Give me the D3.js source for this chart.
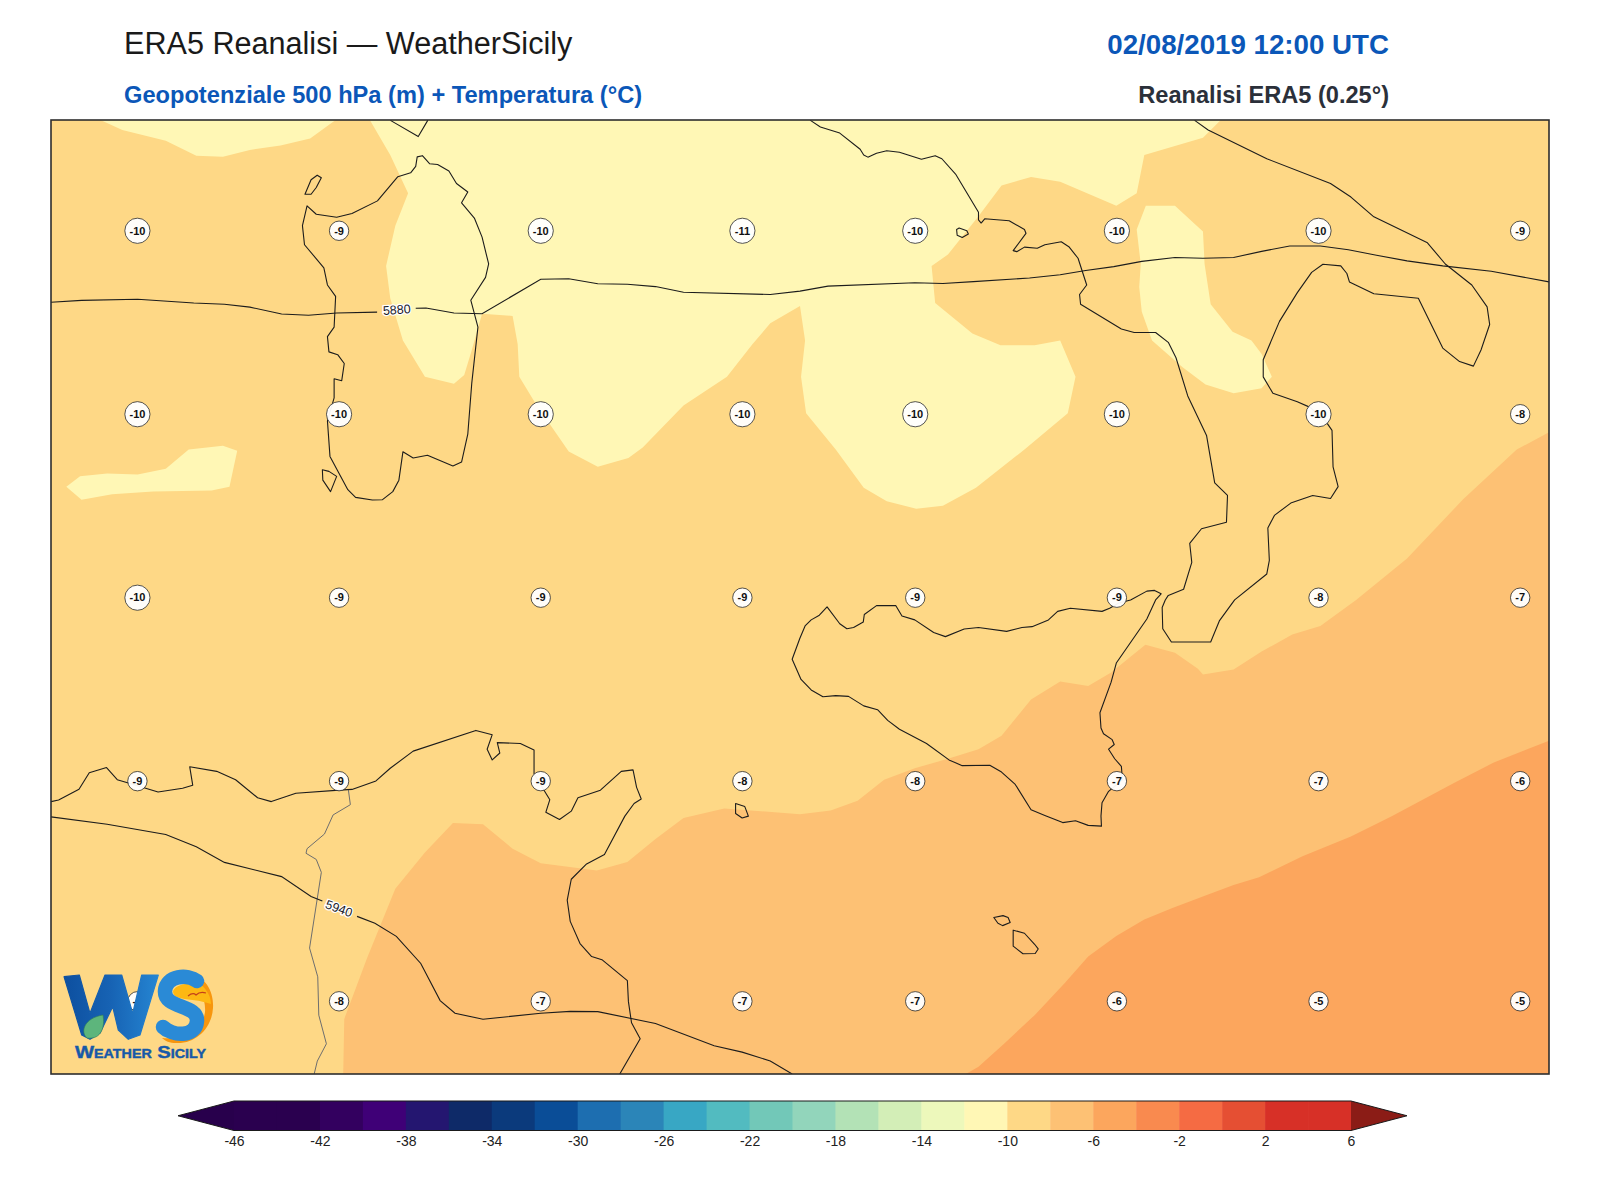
<!DOCTYPE html>
<html>
<head>
<meta charset="utf-8">
<title>ERA5 Reanalisi</title>
<script src="https://cdn.jsdelivr.net/npm/d3@7"></script>
<style>
body { margin: 0; background: #fff; }
text { font-family: "Liberation Sans", Arial, sans-serif; }
</style>
</head>
<body>
<script>
// Settings
var w = 1600, h = 1200;
var plot = { left: 51, right: 1549, top: 120, bottom: 1074 };
var bar = { left: 234, right: 1351, top: 1101, bottom: 1130.5, ext: 56 };

// Map window (degrees)
var lonRange = [6, 19];
var latRange = [35, 41.5];

// Temperature labels on the grid
var labelLons = [6.75, 8.5, 10.25, 12, 13.5, 15.25, 17, 18.75];
var labelLats = [40.75, 39.5, 38.25, 37, 35.5];
var labelTemps = [
	[-10, -9, -10, -11, -10, -10, -10, -9],
	[-10, -10, -10, -10, -10, -10, -10, -8],
	[-10, -9, -9, -9, -9, -9, -8, -7],
	[-9, -9, -9, -8, -8, -7, -7, -6],
	[-8, -8, -7, -7, -7, -6, -5, -5]
];

// Colour scale
var levels = [-46, -44, -42, -40, -38, -36, -34, -32, -30, -28, -26, -24, -22, -20, -18, -16, -14, -12, -10, -8, -6, -4, -2, 0, 2, 4, 6];
var levelColors = ["#2a004f", "#2a004f", "#33005f", "#3f0077", "#241670", "#0e2a68", "#0b3a7c", "#0a4d97", "#1d6eb0", "#2b85b8", "#38a7c4", "#52bbc0", "#72c8b8", "#92d5bb", "#b3e2b6", "#d3eeb7", "#edf8bb", "#fff7b5", "#fed886", "#fdc174", "#fca65d", "#f98a4f", "#f56b43", "#e54f33", "#d73027", "#d73027"];
var underColor = "#28004c", overColor = "#8b1c16";
var barTicks = [-46, -42, -38, -34, -30, -26, -22, -18, -14, -10, -6, -2, 2, 6];

// Temperature bands, [lon, lat]
var bandCold1 = [[6.429,41.5],[6.619,41.432],[6.996,41.359],[7.261,41.257],[7.492,41.249],[7.726,41.296],[7.992,41.327],[8.249,41.374],[8.47,41.5]];
var bandCold2 = [[8.767,41.5],[8.944,41.262],[9.099,41.001],[8.988,40.78],[8.908,40.506],[8.944,40.285],[9.054,39.998],[9.245,39.75],[9.497,39.703],[9.586,39.763],[9.652,39.933],[9.741,40.18],[10.006,40.165],[10.05,39.972],[10.064,39.75],[10.205,39.568],[10.493,39.242],[10.745,39.137],[11.011,39.197],[11.135,39.268],[11.489,39.555],[11.866,39.75],[12.087,39.972],[12.242,40.115],[12.5,40.232],[12.544,39.998],[12.509,39.75],[12.553,39.502],[12.81,39.255],[13.053,38.994],[13.253,38.903],[13.509,38.851],[13.74,38.872],[14.027,38.994],[14.448,39.255],[14.824,39.502],[14.891,39.75],[14.758,39.998],[14.536,39.966],[14.24,39.966],[13.996,40.045],[13.673,40.253],[13.642,40.506],[13.784,40.584],[14.049,40.845],[14.249,41.054],[14.505,41.111],[14.758,41.08],[15.245,40.915],[15.422,41.001],[15.488,41.262],[15.997,41.379],[16.152,41.5]];
var bandCold3 = [[15.501,40.915],[15.754,40.915],[15.997,40.741],[16.011,40.519],[16.064,40.245],[16.254,40.058],[16.418,39.998],[16.506,39.906],[16.595,39.75],[16.506,39.672],[16.263,39.638],[16.019,39.698],[15.82,39.815],[15.555,39.998],[15.466,40.193],[15.444,40.363],[15.457,40.519],[15.422,40.754]];
var bandCold4 = [[6.133,39.002],[6.252,39.072],[6.487,39.091],[6.752,39.085],[6.996,39.124],[7.195,39.255],[7.492,39.281],[7.616,39.247],[7.549,39.002],[7.394,38.976],[6.885,38.968],[6.531,38.95],[6.265,38.913]];
var bandWarm = [[8.536,35],[8.545,35.375],[8.744,35.792],[8.988,36.262],[9.245,36.509],[9.488,36.71],[9.749,36.702],[10.006,36.535],[10.25,36.436],[10.737,36.387],[11.002,36.444],[11.246,36.601],[11.489,36.744],[11.843,36.809],[12.499,36.77],[12.766,36.796],[13,36.861],[13.23,37.005],[13.496,37.083],[13.784,37.148],[14.049,37.213],[14.249,37.305],[14.505,37.552],[14.758,37.675],[15.001,37.643],[15.2,37.735],[15.497,37.925],[15.754,37.87],[15.953,37.761],[15.997,37.722],[16.263,37.756],[16.506,37.878],[16.772,37.995],[17.016,38.053],[17.326,38.23],[17.768,38.512],[18.255,38.916],[18.72,39.255],[19,39.372],[19,35]];
var bandWarmer = [[13.939,35],[14.049,35.049],[14.271,35.206],[14.536,35.401],[14.802,35.623],[15.001,35.8],[15.245,35.941],[15.488,36.053],[15.732,36.131],[16.042,36.223],[16.263,36.288],[16.484,36.34],[16.861,36.483],[17.281,36.619],[17.635,36.757],[18.167,36.979],[18.521,37.122],[19,37.271],[19,35]];

// Geopotential contours
var geo5880west = [[6,40.258],[6.265,40.271],[6.752,40.279],[7.239,40.253],[7.505,40.245],[7.726,40.225],[8.001,40.178],[8.235,40.17],[8.479,40.185],[8.83,40.191]];
var geo5880east = [[9.165,40.217],[9.254,40.219],[9.497,40.185],[9.741,40.18],[10.25,40.415],[10.493,40.418],[10.745,40.384],[11.002,40.381],[11.246,40.365],[11.489,40.326],[12.242,40.311],[12.5,40.334],[12.743,40.368],[13.496,40.391],[13.74,40.386],[14.005,40.399],[14.492,40.423],[14.758,40.446],[14.979,40.475],[15.223,40.501],[15.466,40.537],[15.754,40.563],[15.997,40.558],[16.263,40.563],[16.506,40.605],[16.75,40.642],[17.016,40.642],[17.259,40.616],[17.503,40.579],[17.768,40.54],[18.078,40.506],[18.499,40.47],[19,40.397]];
var geo5940west = [[6,36.752],[6.487,36.702],[6.996,36.632],[7.261,36.548],[7.505,36.442],[8.001,36.345],[8.257,36.21],[8.355,36.178]];
var geo5940east = [[8.656,36.074],[8.811,36.027],[8.997,35.938],[9.209,35.753],[9.377,35.5],[9.506,35.414],[9.749,35.373],[10.25,35.414],[10.506,35.427],[10.745,35.425],[11.246,35.344],[11.755,35.193],[11.998,35.149],[12.242,35.089],[12.432,35]];
var geoLabels = [
	{ text: "5880", lon: 9.0, lat: 40.209, angle: -4 },
	{ text: "5940", lon: 8.5, lat: 36.129, angle: 20 }
];

// Coastlines
var sardinia = [[9.223,41.257],[9.285,41.202],[9.355,41.197],[9.453,41.153],[9.519,41.067],[9.617,41.009],[9.563,40.936],[9.674,40.832],[9.741,40.702],[9.798,40.519],[9.771,40.428],[9.643,40.272],[9.705,40.089],[9.652,39.711],[9.617,39.359],[9.563,39.169],[9.488,39.143],[9.267,39.216],[9.143,39.197],[9.054,39.239],[9.019,39.046],[8.966,38.968],[8.877,38.913],[8.789,38.911],[8.643,38.929],[8.576,38.981],[8.421,39.208],[8.399,39.45],[8.457,39.607],[8.457,39.737],[8.523,39.724],[8.545,39.841],[8.488,39.901],[8.412,39.92],[8.399,40.024],[8.457,40.089],[8.47,40.298],[8.399,40.376],[8.368,40.493],[8.2,40.65],[8.182,40.78],[8.222,40.915],[8.302,40.858],[8.479,40.837],[8.612,40.863],[8.833,40.949],[9.01,41.114],[9.121,41.14],[9.165,41.184],[9.178,41.249]];
var asinara = [[8.204,40.994],[8.257,41.093],[8.31,41.124],[8.346,41.106],[8.302,41.04],[8.257,40.994]];
var antioco = [[8.355,39.117],[8.412,39.106],[8.479,39.072],[8.426,38.968],[8.359,39.046]];
var corsica = [[8.94,41.51],[8.953,41.494],[9.187,41.387],[9.267,41.494],[9.27,41.51]];
var italy = [[12.58,41.51],[12.597,41.494],[12.677,41.452],[12.845,41.411],[13.022,41.301],[13.053,41.262],[13.089,41.247],[13.164,41.273],[13.253,41.291],[13.363,41.28],[13.554,41.233],[13.673,41.257],[13.731,41.236],[13.85,41.132],[14.049,40.871],[14.049,40.819],[14.072,40.798],[14.103,40.827],[14.315,40.814],[14.448,40.754],[14.461,40.728],[14.35,40.61],[14.381,40.603],[14.448,40.634],[14.559,40.626],[14.625,40.65],[14.767,40.67],[14.833,40.637],[14.913,40.558],[14.988,40.376],[14.926,40.311],[14.935,40.245],[15.289,40.076],[15.4,40.052],[15.586,40.052],[15.696,39.985],[15.763,39.88],[15.865,39.62],[16.028,39.351],[16.099,39.028],[16.21,38.942],[16.201,38.759],[15.984,38.715],[15.882,38.616],[15.9,38.486],[15.829,38.303],[15.696,38.261],[15.67,38.23],[15.643,38.178],[15.648,38.034],[15.723,37.943],[16.064,37.943],[16.139,38.087],[16.272,38.23],[16.551,38.407],[16.573,38.499],[16.56,38.72],[16.617,38.806],[16.759,38.89],[16.949,38.942],[17.104,38.921],[17.17,39.002],[17.126,39.137],[17.117,39.385],[17.06,39.45],[16.927,39.542],[16.816,39.581],[16.604,39.638],[16.52,39.75],[16.52,39.867],[16.661,40.128],[16.816,40.324],[16.94,40.462],[17.038,40.517],[17.193,40.506],[17.246,40.454],[17.268,40.397],[17.48,40.316],[17.866,40.285],[18.078,39.946],[18.224,39.854],[18.344,39.823],[18.41,39.933],[18.485,40.107],[18.463,40.227],[18.33,40.376],[18.1,40.519],[17.945,40.663],[17.48,40.84],[17.281,40.975],[17.104,41.067],[16.551,41.236],[16.042,41.432],[15.931,41.494],[15.92,41.51]];
var ischia = [[13.859,40.754],[13.881,40.764],[13.948,40.746],[13.961,40.723],[13.908,40.699],[13.864,40.715]];
var sicily = [[12.432,37.826],[12.499,37.969],[12.544,38.053],[12.597,38.094],[12.668,38.126],[12.735,38.183],[12.845,38.068],[12.907,38.034],[12.965,38.042],[13.049,38.079],[13.058,38.131],[13.164,38.191],[13.332,38.191],[13.385,38.121],[13.496,38.094],[13.66,38.008],[13.762,37.98],[13.925,38.032],[14.049,38.042],[14.293,38.016],[14.426,38.042],[14.514,38.048],[14.656,38.094],[14.736,38.152],[14.846,38.173],[15.121,38.152],[15.187,38.173],[15.267,38.209],[15.369,38.23],[15.51,38.29],[15.577,38.295],[15.634,38.272],[15.586,38.23],[15.51,38.1],[15.245,37.8],[15.2,37.67],[15.103,37.461],[15.112,37.357],[15.134,37.318],[15.209,37.278],[15.227,37.245],[15.178,37.213],[15.231,37.148],[15.289,37.096],[15.298,37.005],[15.178,36.926],[15.121,36.848],[15.112,36.757],[15.116,36.689],[15.001,36.694],[14.891,36.726],[14.78,36.713],[14.625,36.762],[14.505,36.801],[14.368,36.973],[14.249,37.057],[14.147,37.104],[13.908,37.101],[13.793,37.14],[13.598,37.252],[13.363,37.349],[13.261,37.409],[13.173,37.482],[13.053,37.508],[12.921,37.573],[12.81,37.578],[12.699,37.57],[12.597,37.617],[12.509,37.688]];
var pantelleria = [[11.941,36.843],[12.021,36.822],[12.052,36.757],[11.998,36.744],[11.941,36.775]];
var gozo = [[14.182,36.066],[14.262,36.079],[14.306,36.066],[14.324,36.032],[14.258,36.011],[14.218,36.027]];
var malta = [[14.35,35.98],[14.448,35.959],[14.536,35.884],[14.567,35.852],[14.541,35.821],[14.435,35.819],[14.35,35.871]];
var africa = [[6,36.856],[6.066,36.867],[6.243,36.94],[6.332,37.052],[6.482,37.088],[6.575,37.005],[6.664,36.984],[6.929,36.921],[7.142,36.947],[7.23,36.968],[7.204,37.093],[7.438,37.062],[7.602,37.005],[7.793,36.882],[7.912,36.856],[8.125,36.913],[8.501,36.934],[8.612,36.939],[8.82,36.997],[8.944,37.083],[9.143,37.2],[9.687,37.341],[9.829,37.312],[9.785,37.213],[9.829,37.14],[9.895,37.187],[9.873,37.258],[10.073,37.252],[10.192,37.208],[10.192,37.044],[10.329,36.869],[10.294,36.783],[10.413,36.734],[10.515,36.791],[10.573,36.882],[10.768,36.934],[10.949,37.062],[11.051,37.072],[11.082,36.953],[11.122,36.874],[11.06,36.843],[10.98,36.757],[10.803,36.496],[10.648,36.431],[10.515,36.327],[10.48,36.184],[10.506,36.04],[10.591,35.889],[10.692,35.8],[10.781,35.779],[11.002,35.636],[11.011,35.493],[11.038,35.349],[11.113,35.24],[10.936,35]];
var border = [[8.581,36.934],[8.598,36.835],[8.448,36.765],[8.373,36.635],[8.222,36.535],[8.213,36.504],[8.302,36.462],[8.346,36.374],[8.244,35.858],[8.315,35.662],[8.324,35.401],[8.39,35.206],[8.311,35.088],[8.284,35]];

var xScale = d3.scaleLinear().domain(lonRange).range([plot.left, plot.right]);
var yScale = d3.scaleLinear().domain(latRange).range([plot.bottom, plot.top]);
var barScale = d3.scaleLinear().domain([levels[0], levels[levels.length - 1]]).range([bar.left, bar.right]);
var colorOf = d3.scaleThreshold().domain(levels.slice(1, -1)).range(levelColors);

var mapLine = d3.line()
	.x(function(d) { return xScale(d[0]); })
	.y(function(d) { return yScale(d[1]); });

var svg = d3.select("body").append("svg")
	.attr("width", w)
	.attr("height", h);

svg.append("clipPath").attr("id", "plotClip")
	.append("rect")
	.attr("x", plot.left).attr("y", plot.top)
	.attr("width", plot.right - plot.left).attr("height", plot.bottom - plot.top);

var map = svg.append("g").attr("clip-path", "url(#plotClip)");

// Background band -10..-8
map.append("rect")
	.attr("x", plot.left).attr("y", plot.top)
	.attr("width", plot.right - plot.left).attr("height", plot.bottom - plot.top)
	.attr("fill", colorOf(-9));

// Filled bands
var bands = [
	{ pts: bandCold1, t: -11 }, { pts: bandCold2, t: -11 }, { pts: bandCold3, t: -11 }, { pts: bandCold4, t: -11 },
	{ pts: bandWarm, t: -7 }, { pts: bandWarmer, t: -5 }
];
map.selectAll("path.band")
	.data(bands)
	.enter()
	.append("path")
	.attr("class", "band")
	.attr("d", function(d) { return mapLine(d.pts) + "Z"; })
	.attr("fill", function(d) { return colorOf(d.t); });

// Border
map.append("path")
	.attr("d", mapLine(border))
	.attr("fill", "none")
	.attr("stroke", "#6e6e6e")
	.attr("stroke-width", 1);

// Coasts
var closedCoasts = [sardinia, asinara, antioco, ischia, sicily, pantelleria, gozo, malta];
var openCoasts = [corsica, italy, africa];
map.selectAll("path.coast")
	.data(closedCoasts.map(function(c) { return mapLine(c) + "Z"; }).concat(openCoasts.map(function(c) { return mapLine(c); })))
	.enter()
	.append("path")
	.attr("class", "coast")
	.attr("d", function(d) { return d; })
	.attr("fill", "none")
	.attr("stroke", "#1c1c1c")
	.attr("stroke-width", 1.1)
	.attr("stroke-linejoin", "round");

// Geopotential lines
map.selectAll("path.geo")
	.data([geo5880west, geo5880east, geo5940west, geo5940east])
	.enter()
	.append("path")
	.attr("class", "geo")
	.attr("d", function(d) { return mapLine(d); })
	.attr("fill", "none")
	.attr("stroke", "#1c1c1c")
	.attr("stroke-width", 1.1);

map.selectAll("text.geoLabel")
	.data(geoLabels)
	.enter()
	.append("text")
	.attr("class", "geoLabel")
	.attr("transform", function(d) {
		return "translate(" + xScale(d.lon) + "," + yScale(d.lat) + ") rotate(" + d.angle + ")";
	})
	.attr("text-anchor", "middle")
	.attr("dy", "0.36em")
	.attr("font-size", 12.5)
	.attr("fill", "#1c1c2a")
	.attr("stroke", "#fff")
	.attr("stroke-width", 2.5)
	.attr("paint-order", "stroke")
	.text(function(d) { return d.text; });

// Temperature labels
var labelData = [];
labelLats.forEach(function(lat, r) {
	labelLons.forEach(function(lon, c) {
		labelData.push({ lon: lon, lat: lat, t: labelTemps[r][c] });
	});
});

var marks = map.selectAll("g.temp")
	.data(labelData)
	.enter()
	.append("g")
	.attr("class", "temp")
	.attr("transform", function(d) { return "translate(" + xScale(d.lon) + "," + (yScale(d.lat) + 0.7) + ")"; });

marks.append("circle")
	.attr("r", function(d) { return d.t <= -10 ? 12.6 : 9.7; })
	.attr("fill", "#fff")
	.attr("fill-opacity", 0.95)
	.attr("stroke", "#2a2a2a")
	.attr("stroke-width", 0.8);

marks.append("text")
	.attr("text-anchor", "middle")
	.attr("dy", "0.34em")
	.attr("font-size", 11)
	.attr("font-weight", "bold")
	.attr("fill", "#111")
	.text(function(d) { return d.t; });

// Frame
svg.append("rect")
	.attr("x", plot.left).attr("y", plot.top)
	.attr("width", plot.right - plot.left).attr("height", plot.bottom - plot.top)
	.attr("fill", "none")
	.attr("stroke", "#2e2e2e")
	.attr("stroke-width", 1.6);

// Logo
var defs = svg.append("defs");
var wGrad = defs.append("linearGradient").attr("id", "wGrad")
	.attr("gradientUnits", "userSpaceOnUse")
	.attr("x1", 64).attr("x2", 158).attr("y1", 0).attr("y2", 0);
wGrad.append("stop").attr("offset", "0").attr("stop-color", "#0d4f9f");
wGrad.append("stop").attr("offset", "0.5").attr("stop-color", "#1763b4");
wGrad.append("stop").attr("offset", "1").attr("stop-color", "#2585d2");

var logo = svg.append("g").attr("class", "logo");
// orange crescent
logo.append("path")
	.attr("d", "M190 974 C206 977 214 992 213 1008 C212 1028 196 1044 176 1043 C170 1043 165 1041 162 1038 C185 1040 203 1030 205 1012 C206 1000 200 985 190 974Z")
	.attr("fill", "#f7960e");
// yellow patch in the S opening
logo.append("path")
	.attr("d", "M173 991 C176 984 190 982 200 984 C208 990 211 998 211 1004 C200 1000 188 1000 180 998 C176 997 173 995 173 991Z")
	.attr("fill", "#fdb813");
// W
logo.append("path")
	.attr("d", "M64 976.7 L79.3 975 L90 1013.3 L105 975 L121.7 975 L132.7 1013.3 L141.7 975 L158.3 975 L140 1035 L128.3 1039.3 L118.3 1030 L112.7 1006.7 L100 1033 L90 1039.3 L81.7 1035Z")
	.attr("fill", "url(#wGrad)")
	.attr("stroke", "url(#wGrad)")
	.attr("stroke-width", 1.2)
	.attr("stroke-linejoin", "round");
// S
logo.append("path")
	.attr("d", "M197 981 C188 974 166 975 165 991 C164 1009 198 1004 197 1021 C196 1038 172 1036 163 1027")
	.attr("fill", "none")
	.attr("stroke", "#2a8ad6")
	.attr("stroke-width", 14.5)
	.attr("stroke-linecap", "round");
// leaf
logo.append("path")
	.attr("d", "M87 1038 C80 1032 84 1018 103 1015 C105 1026 102 1040 87 1038Z")
	.attr("fill", "#5db57c")
	.attr("stroke", "#2f7d5a")
	.attr("stroke-width", 0.6);
// bird
logo.append("path")
	.attr("d", "M188 996 Q193 992 196 995 Q200 991 206 993")
	.attr("fill", "none")
	.attr("stroke", "#c4401a")
	.attr("stroke-width", 1.2);
logo.append("text")
	.attr("x", 75).attr("y", 1058)
	.attr("textLength", 131)
	.attr("lengthAdjust", "spacingAndGlyphs")
	.attr("font-size", 17)
	.attr("font-weight", "bold")
	.attr("font-variant", "small-caps")
	.attr("fill", "#1759a8")
	.attr("stroke", "#1759a8")
	.attr("stroke-width", 0.4)
	.text("Weather Sicily");

// Colour bar
var cbar = svg.append("g");
cbar.selectAll("rect")
	.data(levelColors)
	.enter()
	.append("rect")
	.attr("x", function(d, i) { return barScale(levels[i]); })
	.attr("y", bar.top)
	.attr("width", function(d, i) { return barScale(levels[i + 1]) - barScale(levels[i]) + 0.5; })
	.attr("height", bar.bottom - bar.top)
	.attr("fill", function(d) { return d; });

var mid = (bar.top + bar.bottom) / 2;
var tri = d3.line();
cbar.append("path")
	.attr("d", tri([[bar.left, bar.top], [bar.left - bar.ext, mid], [bar.left, bar.bottom]]) + "Z")
	.attr("fill", underColor);
cbar.append("path")
	.attr("d", tri([[bar.right, bar.top], [bar.right + bar.ext, mid], [bar.right, bar.bottom]]) + "Z")
	.attr("fill", overColor);
cbar.append("path")
	.attr("d", tri([[bar.left, bar.top], [bar.left - bar.ext, mid], [bar.left, bar.bottom], [bar.right, bar.bottom], [bar.right + bar.ext, mid], [bar.right, bar.top]]) + "Z")
	.attr("fill", "none")
	.attr("stroke", "#1a1a1a")
	.attr("stroke-width", 1);

var barAxis = d3.axisBottom(barScale)
	.tickValues(barTicks)
	.tickSize(0)
	.tickPadding(5.5)
	.tickFormat(function(d) { return String(d); });
var axisG = svg.append("g")
	.attr("transform", "translate(0," + bar.bottom + ")")
	.call(barAxis);
axisG.select(".domain").remove();
axisG.selectAll("text")
	.attr("font-family", "Liberation Sans, Arial, sans-serif")
	.attr("font-size", 14)
	.attr("fill", "#222");

// Titles
svg.append("text")
	.attr("x", 124).attr("y", 54)
	.attr("font-size", 30.6)
	.attr("fill", "#1a1a1a")
	.text("ERA5 Reanalisi — WeatherSicily");
svg.append("text")
	.attr("x", 124).attr("y", 103)
	.attr("font-size", 23.65)
	.attr("font-weight", "bold")
	.attr("fill", "#0b57b8")
	.text("Geopotenziale 500 hPa (m) + Temperatura (°C)");
svg.append("text")
	.attr("x", 1389).attr("y", 54)
	.attr("text-anchor", "end")
	.attr("font-size", 27.7)
	.attr("font-weight", "bold")
	.attr("fill", "#0b57b8")
	.text("02/08/2019 12:00 UTC");
svg.append("text")
	.attr("x", 1389).attr("y", 103)
	.attr("text-anchor", "end")
	.attr("font-size", 23.6)
	.attr("font-weight", "bold")
	.attr("fill", "#2b303a")
	.text("Reanalisi ERA5 (0.25°)");
</script>
</body>
</html>
